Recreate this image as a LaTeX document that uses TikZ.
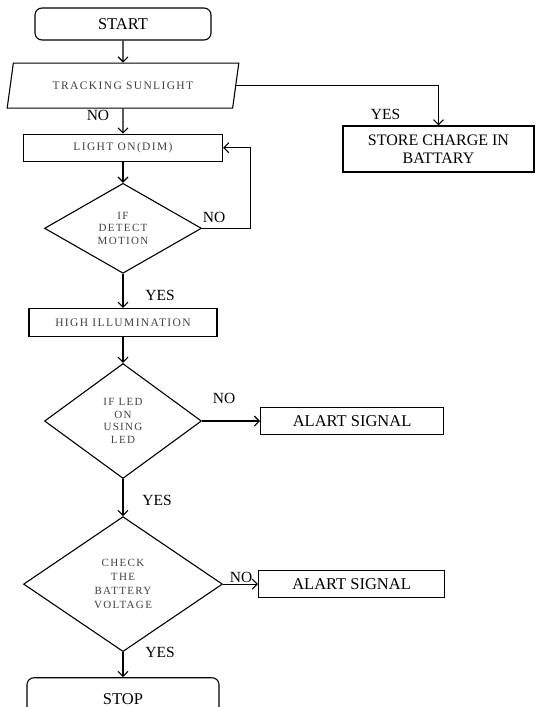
\documentclass[tikz,border=0pt]{standalone}
\usepackage{fontspec}
\setmainfont{Liberation Serif}
\newfontfamily\spacedfont[LetterSpace=12]{Liberation Serif}
\usetikzlibrary{positioning}
\usetikzlibrary{shapes.geometric}
\usetikzlibrary{arrows.meta}
\tikzset{
  terminal/.style={draw, rounded corners=7pt, minimum width=176pt, minimum height=32pt, font=\fontsize{16.5}{19}\selectfont},
  process/.style={draw, minimum height=27pt, font=\spacedfont\fontsize{11.5}{13}\selectfont, text=black!75},
  alertbox/.style={draw, minimum height=27pt, font=\fontsize{16.5}{19}\selectfont},
  inout/.style={draw, trapezium, trapezium left angle=74, trapezium right angle=106, trapezium stretches=true, minimum width=232pt, minimum height=45pt, font=\spacedfont\fontsize{11.5}{13}\selectfont, text=black!75},
  decision/.style={draw, diamond, inner sep=0pt, align=center, font=\spacedfont\fontsize{11}{12.5}\selectfont, text=black!75},
  answer/.style={font=\fontsize{15.5}{17}\selectfont},
}

\begin{document}
\begin{tikzpicture}[x=1pt, y=1pt, line width=1.1pt, >={Straight Barb[length=5pt,width=10pt]}]
  \useasboundingbox (0,0) rectangle (536,-707);
  % Define nodes
  \node[terminal] (start) at (123,-24) {START};
  \node[inout, below=22pt of start] (track) {TRACKING SUNLIGHT};
  \node[process, minimum width=199pt, below=25pt of track] (light) {LIGHT ON(DIM)};
  \node[decision, minimum width=157pt, minimum height=90pt, below=21pt of light] (d1) {IF\\DETECT\\MOTION};
  \node[process, minimum width=188pt, minimum height=28pt, below=34pt of d1] (high) {HIGH ILLUMINATION};
  \node[decision, minimum width=157pt, minimum height=115pt, below=26pt of high] (d2) {IF LED\\ON\\USING\\LED};
  \node[decision, minimum width=199pt, minimum height=135pt, below=37pt of d2, font=\spacedfont\fontsize{11}{14}\selectfont] (d3) {CHECK\\THE\\BATTERY\\VOLTAGE};
  \node[terminal, minimum width=192pt, minimum height=42pt, below=25pt of d3] (stop) {STOP};
  \node[alertbox, minimum width=191pt, minimum height=46pt, align=center, font=\fontsize{16}{18}\selectfont] (store) at (438.5,-149) {STORE CHARGE IN\\BATTARY};
  \node[alertbox, minimum width=183pt, right=58pt of d2] (alart1) {ALART SIGNAL};
  \node[alertbox, minimum width=186pt, right=35pt of d3] (alart2) {ALART SIGNAL};
  % Define labels
  \node[answer] (no1) at ([xshift=-25pt,yshift=-7pt]track.south) {NO};
  \node[answer] (yes1) at ([xshift=-53pt,yshift=11pt]store.north) {YES};
  \node[answer] (no2) at ([xshift=12pt,yshift=11pt]d1.east) {NO};
  \node[answer] (yes2) at ([xshift=37pt,yshift=-22pt]d1.south) {YES};
  \node[answer] (no3) at ([xshift=22pt,yshift=23pt]d2.east) {NO};
  \node[answer] (yes3) at ([xshift=34pt,yshift=-21pt]d2.south) {YES};
  \node[answer] (no4) at ([xshift=18pt,yshift=7pt]d3.east) {NO};
  \node[answer] (yes4) at ([xshift=37pt]d3.south) {YES};
  % Define edges
  \draw[->] (start) -- (track);
  \draw[->] (track) -- (light);
  \draw[->] (track.east) -| (store.north);
  \draw[->] (light) -- (d1);
  \draw[->] (d1.east) -- ++(48,0) |- (light.east);
  \draw[->] (d1) -- (high);
  \draw[->] (high) -- (d2);
  \draw[->] (d2) -- (alart1);
  \draw[->] (d2) -- (d3);
  \draw[->] (d3) -- (alart2);
  \draw[->] (d3) -- (stop);
\end{tikzpicture}
\end{document}
